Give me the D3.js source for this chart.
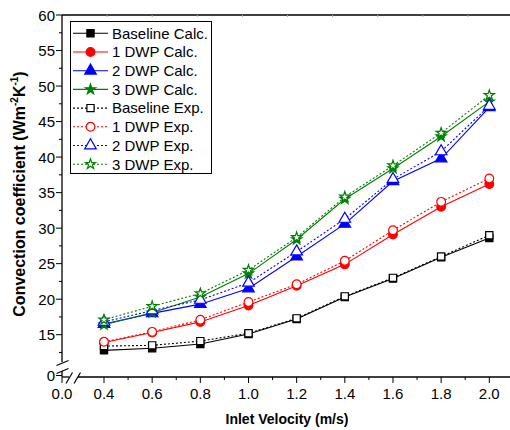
<!DOCTYPE html>
<html>
<head>
<meta charset="utf-8">
<script src="https://cdn.jsdelivr.net/npm/d3@7"></script>
<style>
  body { margin: 0; background: #fff; }
  svg { display: block; font-family: "Liberation Sans", Arial, sans-serif; }
</style>
</head>
<body>
<div id="chart"></div>
<script>
// inlet velocity (m/s)
var velocity = [0.4, 0.6, 0.8, 1.0, 1.2, 1.4, 1.6, 1.8, 2.0];

// convection coefficient, calculated
var baselineCalc = [12.8, 13.1, 13.7, 15.1, 17.2, 20.3, 22.9, 25.9, 28.6];
var dwp1Calc     = [13.9, 15.3, 16.8, 19.1, 21.9, 24.9, 29.1, 33.0, 36.2];
var dwp2Calc     = [16.5, 18.0, 19.3, 21.5, 26.0, 30.6, 36.6, 39.8, 47.0];
var dwp3Calc     = [16.4, 18.1, 20.3, 23.6, 28.4, 34.1, 38.4, 42.9, 47.8];

// convection coefficient, experiment
var baselineExp = [13.4, 13.5, 14.1, 15.2, 17.3, 20.4, 23.0, 26.0, 29.0];
var dwp1Exp     = [14.0, 15.4, 17.1, 19.6, 22.1, 25.4, 29.7, 33.7, 37.0];
var dwp2Exp     = [16.8, 18.4, 19.9, 22.3, 26.7, 31.3, 36.9, 40.8, 47.2];
var dwp3Exp     = [17.1, 19.0, 20.8, 24.1, 28.7, 34.4, 38.8, 43.4, 48.7];

var seriesNames = ["Baseline Calc.", "1 DWP Calc.", "2 DWP Calc.", "3 DWP Calc.",
                   "Baseline Exp.", "1 DWP Exp.", "2 DWP Exp.", "3 DWP Exp."];
var seriesValues = [baselineCalc, dwp1Calc, dwp2Calc, dwp3Calc,
                    baselineExp, dwp1Exp, dwp2Exp, dwp3Exp];

var xTickValues = [0.4, 0.6, 0.8, 1.0, 1.2, 1.4, 1.6, 1.8, 2.0];
var yTickValues = [15, 20, 25, 30, 35, 40, 45, 50, 55, 60];

var colors = ["#000000", "#ff0000", "#0000ff", "#008000"];
var symbols = [d3.symbolSquare, d3.symbolCircle, d3.symbolTriangle, d3.symbolStar];
var symbolSizes = [52, 60, 58, 32];

var width = 510, height = 430;
var padLeft = 62, padTop = 15, axisBottom = 377, padRight = 513;

var svg = d3.select("#chart").append("svg")
    .attr("width", width)
    .attr("height", height);

// broken axes: the main part holds the data, a short stub holds zero
var x = d3.scaleLinear().domain([0.4, 2.0]).range([104, 489.3]);
var y = d3.scaleLinear().domain([15, 60]).range([334.7, padTop]);
var xTop = d3.scaleLinear().domain([0, 2.0]).range([padLeft, padRight]);

// frame top line with faint ticks
svg.append("line")
    .attr("x1", padLeft).attr("x2", padRight).attr("y1", padTop).attr("y2", padTop)
    .attr("stroke", "#000").attr("stroke-width", 1.3);
svg.selectAll(".ttick").data(d3.range(1, 10).map(function(i) { return i * 0.2; }))
  .enter().append("line")
    .attr("x1", function(d) { return xTop(d); }).attr("x2", function(d) { return xTop(d); })
    .attr("y1", padTop).attr("y2", padTop + 2)
    .attr("stroke", "#aaa").attr("stroke-width", 1);

// left axis
var yAxisG = svg.append("g");
yAxisG.append("line")
    .attr("x1", padLeft).attr("x2", padLeft).attr("y1", padTop).attr("y2", 362)
    .attr("stroke", "#000").attr("stroke-width", 1.3);
yAxisG.append("line")
    .attr("x1", padLeft).attr("x2", padLeft).attr("y1", 371).attr("y2", axisBottom)
    .attr("stroke", "#000").attr("stroke-width", 1.3);
yAxisG.selectAll(".ymaj").data(yTickValues).enter().append("line")
    .attr("x1", padLeft - 6).attr("x2", padLeft)
    .attr("y1", function(d) { return y(d); }).attr("y2", function(d) { return y(d); })
    .attr("stroke", "#000");
yAxisG.selectAll(".ymin").data(d3.range(12.5, 60, 5)).enter().append("line")
    .attr("x1", padLeft - 3).attr("x2", padLeft)
    .attr("y1", function(d) { return y(d); }).attr("y2", function(d) { return y(d); })
    .attr("stroke", "#000");
yAxisG.selectAll(".ylab").data(yTickValues).enter().append("text")
    .attr("x", 55).attr("y", function(d) { return y(d) + 5.5; })
    .attr("text-anchor", "end")
    .attr("font-size", 15)
    .text(function(d) { return d; });
// zero stub
yAxisG.append("line")
    .attr("x1", padLeft - 6).attr("x2", padLeft).attr("y1", 375.5).attr("y2", 375.5)
    .attr("stroke", "#000");
yAxisG.append("text")
    .attr("x", 55).attr("y", 381).attr("text-anchor", "end")
    .attr("font-size", 15).text("0");

// bottom axis
var xAxisG = svg.append("g");
xAxisG.append("line")
    .attr("x1", padLeft).attr("x2", 69).attr("y1", axisBottom).attr("y2", axisBottom)
    .attr("stroke", "#000").attr("stroke-width", 1.3);
xAxisG.append("line")
    .attr("x1", 78).attr("x2", padRight).attr("y1", axisBottom).attr("y2", axisBottom)
    .attr("stroke", "#000").attr("stroke-width", 1.3);
xAxisG.selectAll(".xmaj").data(xTickValues).enter().append("line")
    .attr("x1", function(d) { return x(d); }).attr("x2", function(d) { return x(d); })
    .attr("y1", axisBottom).attr("y2", axisBottom + 6)
    .attr("stroke", "#000");
xAxisG.selectAll(".xmin").data(d3.range(0.5, 2.0, 0.2)).enter().append("line")
    .attr("x1", function(d) { return x(d); }).attr("x2", function(d) { return x(d); })
    .attr("y1", axisBottom).attr("y2", axisBottom + 3)
    .attr("stroke", "#000");
xAxisG.selectAll(".xlab").data(xTickValues).enter().append("text")
    .attr("x", function(d) { return x(d); }).attr("y", 399)
    .attr("text-anchor", "middle")
    .attr("font-size", 15)
    .text(function(d) { return d3.format(".1f")(d); });
xAxisG.append("line")
    .attr("x1", padLeft).attr("x2", padLeft).attr("y1", axisBottom).attr("y2", axisBottom + 6)
    .attr("stroke", "#000");
xAxisG.append("text")
    .attr("x", padLeft).attr("y", 399).attr("text-anchor", "middle")
    .attr("font-size", 15).text("0.0");

// break marks
function slash(x1, y1, x2, y2) {
  svg.append("line")
      .attr("x1", x1).attr("y1", y1).attr("x2", x2).attr("y2", y2)
      .attr("stroke", "#000").attr("stroke-width", 1.2);
}
slash(56.5, 365.5, 68.5, 360.5);
slash(56.5, 373.5, 68.5, 368.5);
slash(66, 383.5, 72.5, 372.5);
slash(74, 383.5, 80.5, 372.5);

// series: calc first, exp drawn on top
var line = d3.line()
    .x(function(d) { return x(d.v); })
    .y(function(d) { return y(d.h); });

seriesValues.forEach(function(vals, i) {
  var k = i % 4, exp = i >= 4;
  var pts = velocity.map(function(v, j) { return { v: v, h: vals[j] }; });
  var g = svg.append("g");
  g.append("path")
      .datum(pts)
      .attr("d", line)
      .attr("fill", "none")
      .attr("stroke", colors[k])
      .attr("stroke-width", 1.1)
      .attr("stroke-dasharray", exp ? "2,2" : null);
  g.selectAll("path.pt").data(pts).enter().append("path")
      .attr("class", "pt")
      .attr("transform", function(d) { return "translate(" + x(d.v) + "," + y(d.h) + ")"; })
      .attr("d", d3.symbol().type(symbols[k]).size(symbolSizes[k]))
      .attr("fill", exp ? "#fff" : colors[k])
      .attr("stroke", colors[k])
      .attr("stroke-width", 1.2);
});

// legend
var leg = svg.append("g");
leg.append("rect")
    .attr("x", 70.5).attr("y", 21.5).attr("width", 141).attr("height", 152)
    .attr("fill", "#fff").attr("stroke", "#000").attr("stroke-width", 1);
seriesNames.forEach(function(name, i) {
  var k = i % 4, exp = i >= 4;
  var cy = 33.3 + i * 18.7;
  leg.append("line")
      .attr("x1", 73).attr("x2", 108).attr("y1", cy).attr("y2", cy)
      .attr("stroke", colors[k]).attr("stroke-width", 1.1)
      .attr("stroke-dasharray", exp ? "2,2" : null);
  leg.append("path")
      .attr("transform", "translate(90.5," + cy + ")")
      .attr("d", d3.symbol().type(symbols[k]).size(symbolSizes[k]))
      .attr("fill", exp ? "#fff" : colors[k])
      .attr("stroke", colors[k])
      .attr("stroke-width", 1.2);
  leg.append("text")
      .attr("x", 112).attr("y", cy + 5.3)
      .attr("font-size", 15)
      .text(name);
});

// axis titles
svg.append("text")
    .attr("x", 287).attr("y", 424)
    .attr("text-anchor", "middle")
    .attr("font-size", 14).attr("font-weight", "bold")
    .text("Inlet Velocity (m/s)");

var yt = svg.append("text")
    .attr("transform", "translate(25,194) rotate(-90)")
    .attr("text-anchor", "middle")
    .attr("font-size", 16).attr("font-weight", "bold");
yt.append("tspan").text("Convection coefficient (Wm");
yt.append("tspan").attr("font-size", 10).attr("dy", -7).text("-2");
yt.append("tspan").attr("dy", 7).text("K");
yt.append("tspan").attr("font-size", 10).attr("dy", -7).text("-1");
yt.append("tspan").attr("dy", 7).text(")");
</script>
</body>
</html>
